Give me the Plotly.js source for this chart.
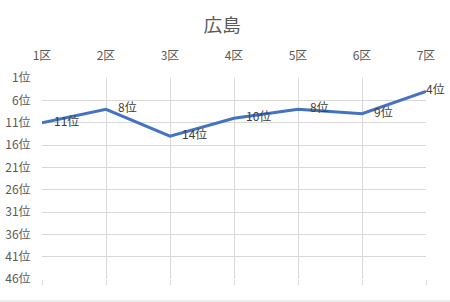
<!DOCTYPE html>
<html>
<head>
<meta charset="utf-8">
<script src="https://cdn.plot.ly/plotly-3.0.1.min.js"></script>
<style>html,body{margin:0;padding:0;background:#fff;}#chart{width:450px;height:302px;}</style>
</head>
<body>
<div id="chart"></div>
<script>
var districts = ['1区','2区','3区','4区','5区','6区','7区'];
var ranks = [11, 8, 14, 10, 8, 9, 4];
var rankTicks = [1, 6, 11, 16, 21, 26, 31, 36, 41, 46];
var rankTickText = rankTicks.map(function(v){ return v + '位'; });
var pointLabels = ranks.map(function(v, i){
  var pad = (i === ranks.length - 1) ? '' : '\u2002\u2002';
  return pad + v + '位';
});

var font = '"Noto Sans CJK JP", "Noto Sans", sans-serif';
var trace = {
  x: districts,
  y: ranks,
  type: 'scatter',
  mode: 'lines+text',
  line: {color: '#4472C4', width: 3},
  text: pointLabels,
  textposition: 'middle right',
  textfont: {family: font, size: 12, color: '#404040'},
  cliponaxis: false,
  hoverinfo: 'none'
};
var layout = {
  width: 450, height: 302,
  margin: {l: 42, r: 24, t: 78, b: 23},
  paper_bgcolor: '#fff', plot_bgcolor: '#fff',
  showlegend: false,
  title: {text: '広島', font: {family: font, size: 18.7, color: '#595959'}, x: 0.494, xanchor: 'center', y: 0.917, yanchor: 'middle'},
  xaxis: {
    type: 'category', side: 'top', range: [0, 6],
    showgrid: true, gridcolor: '#d9d9d9', gridwidth: 1,
    zeroline: false, showline: false,
    ticks: 'outside', ticklen: 12, tickcolor: 'rgba(0,0,0,0)',
    tickfont: {family: font, size: 12, color: '#595959'}
  },
  xaxis2: {
    overlaying: 'x', side: 'bottom', range: [0, 6],
    tickvals: [0,1,2,3,4,5,6], showticklabels: false,
    ticks: 'outside', ticklen: 5, tickcolor: '#d9d9d9', tickwidth: 1,
    showgrid: false, zeroline: false, showline: false
  },
  yaxis: {
    autorange: false, range: [46, 1],
    tickvals: rankTicks, ticktext: rankTickText,
    showgrid: true, gridcolor: '#d9d9d9', gridwidth: 1,
    zeroline: false, showline: false,
    ticks: 'outside', ticklen: 8, tickcolor: 'rgba(0,0,0,0)',
    tickfont: {family: font, size: 12, color: '#595959'}
  },
  shapes: [{
    type: 'line', xref: 'paper', yref: 'paper',
    x0: -0.2, x1: 1.2, y0: -0.1095, y1: -0.1095,
    line: {color: '#d9d9d9', width: 1}
  }]
};
var trace2 = {x: [0, 6], y: [46, 46], xaxis: 'x2', yaxis: 'y', mode: 'lines', line: {color: 'rgba(0,0,0,0)'}, hoverinfo: 'none'};
Plotly.newPlot('chart', [trace, trace2], layout, {staticPlot: true});
</script>
</body>
</html>
